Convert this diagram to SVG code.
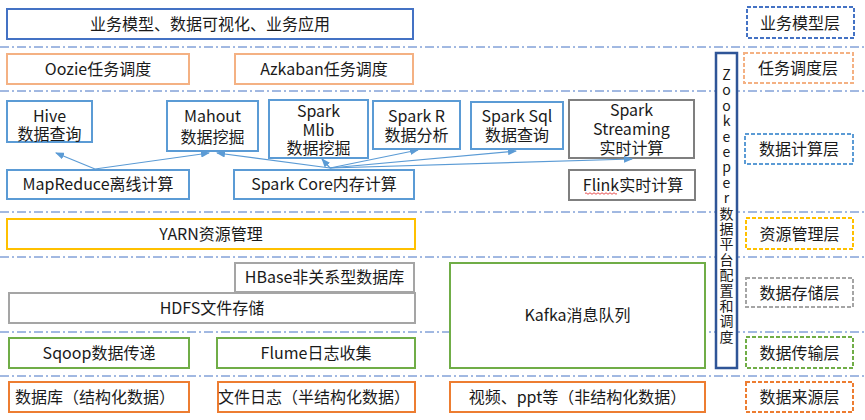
<svg xmlns="http://www.w3.org/2000/svg" width="865" height="420" viewBox="0 0 865 420">
<defs>
<style>
text{font-family:"Noto Sans CJK SC","Microsoft YaHei",sans-serif;font-size:16px;fill:#1a1a1a;text-anchor:middle}
.sep{stroke:#4472C4;stroke-width:1;stroke-dasharray:9 3 2 3;fill:none}
.box{fill:#fff;stroke-width:2}
.lbl{fill:#fff;stroke-width:2;stroke-dasharray:4 2}
.blue{stroke:#4472C4}
.peach{stroke:#F4B183}
.lblue{stroke:#5B9BD5}
.gray{stroke:#7F7F7F}
.lgray{stroke:#A5A5A5}
.gold{stroke:#FFC000}
.green{stroke:#70AD47}
.orange{stroke:#ED7D31}
.vt{font-size:14px}
.arr{stroke:#5B9BD5;stroke-width:1.2;fill:none;marker-end:url(#ah)}
</style>
<marker id="ah" markerWidth="9" markerHeight="7" refX="8" refY="3.5" orient="auto" markerUnits="userSpaceOnUse">
<path d="M0,0 L9,3.5 L0,7 z" fill="#5B9BD5"/>
</marker>
</defs>
<g id="separators">
<line class="sep" x1="0" y1="47" x2="865" y2="47"/>
<line class="sep" x1="0" y1="91" x2="865" y2="91"/>
<line class="sep" x1="0" y1="212" x2="865" y2="212"/>
<line class="sep" x1="0" y1="257" x2="865" y2="257"/>
<line class="sep" x1="0" y1="332" x2="865" y2="332"/>
<line class="sep" x1="0" y1="376" x2="865" y2="376"/>
</g>
<g id="n-business"><rect class="box blue" x="7" y="9" width="406" height="30"/><text x="210" y="30">业务模型、数据可视化、业务应用</text></g>
<g id="l-business"><rect class="lbl blue" x="747" y="7" width="107" height="31"/><text x="800" y="29">业务模型层</text></g>
<g id="n-oozie"><rect class="box peach" x="7" y="54" width="182" height="30"/><text x="98" y="75">Oozie任务调度</text></g>
<g id="n-azkaban"><rect class="box peach" x="235" y="54" width="178" height="30"/><text x="324" y="75">Azkaban任务调度</text></g>
<g id="l-schedule"><rect class="lbl peach" x="744" y="53" width="109" height="30"/><text x="798" y="74">任务调度层</text></g>
<g id="n-zookeeper"><rect fill="#fff" stroke="#2F5597" stroke-width="2.5" x="716" y="53" width="21" height="315"/>
<text class="vt" x="726.5" y="80"><tspan x="726.5">Z</tspan><tspan x="726.5" dy="15.4">o</tspan><tspan x="726.5" dy="15.4">o</tspan><tspan x="726.5" dy="15.4">k</tspan><tspan x="726.5" dy="15.4">e</tspan><tspan x="726.5" dy="15.4">e</tspan><tspan x="726.5" dy="15.4">p</tspan><tspan x="726.5" dy="15.4">e</tspan><tspan x="726.5" dy="15.4">r</tspan><tspan x="726.5" dy="15.4">数</tspan><tspan x="726.5" dy="15.4">据</tspan><tspan x="726.5" dy="15.4">平</tspan><tspan x="726.5" dy="15.4">台</tspan><tspan x="726.5" dy="15.4">配</tspan><tspan x="726.5" dy="15.4">置</tspan><tspan x="726.5" dy="15.4">和</tspan><tspan x="726.5" dy="15.4">调</tspan><tspan x="726.5" dy="15.4">度</tspan></text></g>
<g id="n-hive"><rect class="box lblue" x="7" y="101" width="85" height="41"/><text x="49.5" y="122">Hive</text><text x="49.5" y="140">数据查询</text></g>
<g id="n-mahout"><rect class="box lblue" x="167" y="101" width="91" height="50"/><text x="212.5" y="122">Mahout</text><text x="212.5" y="143">数据挖掘</text></g>
<g id="n-mlib"><rect class="box lblue" x="269" y="100" width="99" height="58"/><text x="318.5" y="117">Spark</text><text x="318.5" y="136">Mlib</text><text x="318.5" y="154">数据挖掘</text></g>
<g id="n-sparkr"><rect class="box lblue" x="373" y="101" width="87" height="48"/><text x="416.5" y="122">Spark R</text><text x="416.5" y="141">数据分析</text></g>
<g id="n-sparksql"><rect class="box lblue" x="471" y="102" width="92" height="47"/><text x="517" y="122">Spark Sql</text><text x="517" y="141">数据查询</text></g>
<g id="n-streaming"><rect class="box gray" x="569" y="100" width="125" height="58"/><text x="631.5" y="116">Spark</text><text x="631.5" y="135">Streaming</text><text x="631.5" y="154">实时计算</text></g>
<g id="n-mapreduce"><rect class="box lblue" x="7" y="170" width="182" height="29"/><text x="98" y="190">MapReduce离线计算</text></g>
<g id="n-sparkcore"><rect class="box lblue" x="234" y="170" width="180" height="29"/><text x="324" y="190">Spark Core内存计算</text></g>
<g id="n-flink"><rect class="box gray" x="569" y="170" width="126" height="30"/><text x="633" y="191">Flink实时计算</text>
<path d="M585,193.5 q1,-1.5 2,0 t2,0 t2,0 t2,0 t2,0 t2,0 t2,0 t2,0 t2,0 t2,0 t2,0 t2,0 t2,0 t2,0 t2,0 t2,0" fill="none" stroke="#E02020" stroke-width="0.8"/></g>
<g id="l-compute"><rect class="lbl lblue" x="745" y="134" width="108" height="30"/><text x="799" y="155">数据计算层</text></g>
<g id="n-yarn"><rect class="box gold" x="7" y="219" width="408" height="30"/><text x="211" y="240">YARN资源管理</text></g>
<g id="l-resource"><rect class="lbl gold" x="746" y="218" width="107" height="31"/><text x="799.5" y="240">资源管理层</text></g>
<g id="n-hbase"><rect class="box lgray" x="235" y="263" width="179" height="29"/><text x="324.5" y="283">HBase非关系型数据库</text></g>
<g id="n-hdfs"><rect class="box lgray" x="9" y="293" width="406" height="30"/><text x="212" y="314">HDFS文件存储</text></g>
<g id="n-kafka"><rect class="box green" x="450" y="263" width="255" height="105"/><text x="577.5" y="321">Kafka消息队列</text></g>
<g id="l-storage"><rect class="lbl lgray" x="746" y="278" width="107" height="29"/><text x="799.5" y="299">数据存储层</text></g>
<g id="n-sqoop"><rect class="box green" x="9" y="338" width="180" height="30"/><text x="99" y="359">Sqoop数据传递</text></g>
<g id="n-flume"><rect class="box green" x="217" y="338" width="198" height="30"/><text x="316" y="359">Flume日志收集</text></g>
<g id="l-transfer"><rect class="lbl green" x="746" y="337" width="107" height="31"/><text x="799.5" y="359">数据传输层</text></g>
<g id="n-db"><rect class="box orange" x="9" y="382" width="180" height="30"/><text x="95" y="403">数据库（结构化数据）</text></g>
<g id="n-filelog"><rect class="box orange" x="218" y="382" width="197" height="30"/><text x="314" y="403">文件日志（半结构化数据）</text></g>
<g id="n-video"><rect class="box orange" x="450" y="382" width="255" height="30"/><text x="577.5" y="403">视频、ppt等（非结构化数据）</text></g>
<g id="l-source"><rect class="lbl orange" x="746" y="382" width="107" height="30"/><text x="799.5" y="403">数据来源层</text></g>
<g id="connectors">
<line class="arr" x1="95" y1="169" x2="56" y2="153"/>
<line class="arr" x1="95" y1="169" x2="209" y2="153"/>
<line class="arr" x1="330" y1="168" x2="217" y2="153"/>
<line class="arr" x1="330" y1="168" x2="322" y2="159"/>
<line class="arr" x1="330" y1="168" x2="418" y2="150"/>
<line class="arr" x1="330" y1="168" x2="516" y2="151"/>
<line class="arr" x1="330" y1="168" x2="632" y2="159"/>
</g>
</svg>
